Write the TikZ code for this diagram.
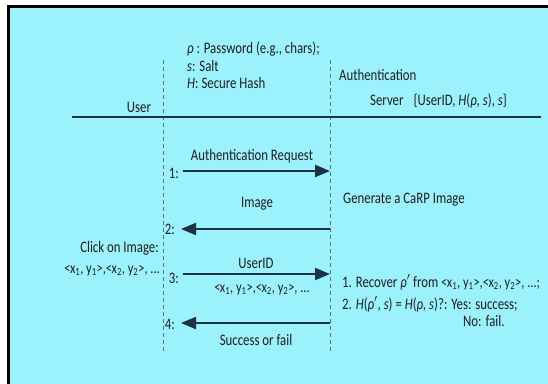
\documentclass[tikz,border=0pt]{standalone}
\usepackage{fontspec}
\setmainfont{Carlito}[FakeStretch=0.8]
\usetikzlibrary{arrows.meta}
\definecolor{panel}{HTML}{9BF1FC}
\definecolor{ink}{HTML}{1B3342}
\tikzstyle{frame}=[draw=black,line width=3pt,fill=panel]
\tikzstyle{lifeline}=[draw=ink!70,dash pattern=on 4pt off 3pt,line width=0.6pt]
\tikzstyle{msg}=[draw=ink,line width=2.2pt,-{Triangle[length=15pt,width=12pt]}]
\tikzstyle{lbl}=[font=\fontsize{16}{18}\selectfont,text=black!88,inner sep=0pt]
\newcommand{\clickpt}[1]{<\kern-0.5pt x\textsubscript{#1}, y\textsubscript{#1}>}
\newcommand{\clicksize}{\fontsize{15.5}{17}\selectfont}

\begin{document}
\begin{tikzpicture}[x=1pt,y=-1pt]
        \useasboundingbox (0,0) rectangle (548,383);
        \clip (0,0) rectangle (548,383);
        \path[frame] (8,6) rectangle (600,440);
        % lifelines
        \coordinate (ut) at (163,60);
        \coordinate (ub) at (163,352);
        \coordinate (st) at (330,60);
        \coordinate (sb) at (330,352);
        \path[lifeline] (ut) -- (ub);
        \path[lifeline] (st) -- (sb);
        \coordinate (hl) at (72,117);
        \coordinate (hr) at (541,117);
        \draw[ink,line width=2.6pt] (hl) -- (hr);
        % header
        \node[lbl,anchor=base] (user) at (139,112) {User};
        \node[lbl,anchor=base west] (pw) at (187,53) {\textit{ρ} : Password (e.g., chars);};
        \node[lbl,anchor=base west] (salt) at (187,71) {\textit{s}: Salt};
        \node[lbl,anchor=base west] (hash) at (187,88) {\textit{H}: Secure Hash};
        \node[lbl,anchor=base west] (auth) at (339,80) {Authentication};
        \node[lbl,anchor=base west] (srv) at (370,105) {Server\hspace{10pt}\{UserID, \textit{H}(\textit{ρ, s}), \textit{s}\}};
        % messages
        \coordinate (a1) at (183,171);
        \coordinate (b1) at (330,171);
        \coordinate (a2) at (181,229);
        \coordinate (b2) at (330,229);
        \coordinate (a3) at (183,274);
        \coordinate (b3) at (330,274);
        \coordinate (a4) at (181,323);
        \coordinate (b4) at (330,323);
        \path[msg] (a1) -- (b1);
        \path[msg] (b2) -- (a2);
        \path[msg] (a3) -- (b3);
        \path[msg] (b4) -- (a4);
        \node[lbl,anchor=east] (n1) at (a1) [xshift=-4pt,yshift=-2pt] {1:};
        \node[lbl,anchor=east] (n2) at (a2) [xshift=-6pt] {2:};
        \node[lbl,anchor=east] (n3) at (a3) [xshift=-4pt,yshift=-4pt] {3:};
        \node[lbl,anchor=east] (n4) at (a4) [xshift=-6pt,yshift=-1pt] {4:};
        \node[lbl,anchor=base] (req) at (252,160) {Authentication Request};
        \node[lbl,anchor=base] (img) at (257,207) {Image};
        \node[lbl,anchor=base] (uid) at (256,268) {UserID};
        \node[lbl,anchor=base] (clk2) at (262,292) {\clicksize\clickpt{1},\clickpt{2}, ...};
        \node[lbl,anchor=base] (res) at (256,345) {Success or fail};
        % user side
        \node[lbl,anchor=base east] (click) at (159,252) {Click on Image:};
        \node[lbl,anchor=base east] (clk1) at (160,273) {\clicksize\clickpt{1},\clickpt{2}, ...};
        % server side
        \node[lbl,anchor=base west] (gen) at (343,203) {Generate a CaRP Image};
        \node[lbl,anchor=base west] (rec) at (342,287) {1. Recover \textit{ρ}$'$ from {\clicksize\clickpt{1},\clickpt{2}, ...;}};
        \node[lbl,anchor=base west] (chk) at (342,309) {2. \textit{H}(\textit{ρ}$'$, \textit{s}) = \textit{H}(\textit{ρ, s})?: Yes: success;};
        \node[lbl,anchor=base west] (no) at (463,326) {No:\hspace{4pt}fail.};
\end{tikzpicture}
\end{document}
